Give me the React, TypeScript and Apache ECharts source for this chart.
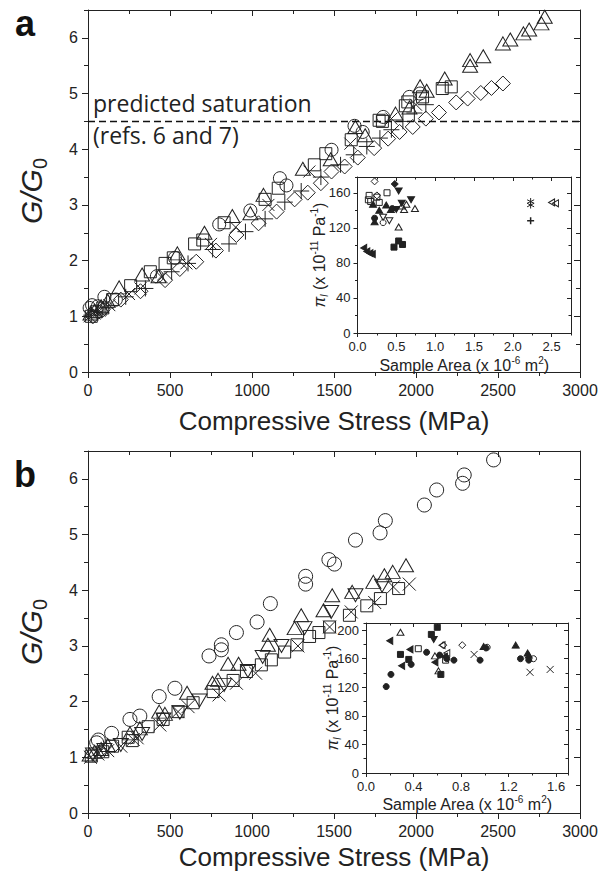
import React, { useEffect, useRef } from 'react';
import * as echarts from 'echarts';

const INK = '#222';
const SANS = '"Liberation Sans", Arial, Helvetica, sans-serif';

// ---------- Panel a : main plot  [compressive stress (MPa), G/G0] ----------
const aTriangles = [[15,1.05],[40,1.1],[80,1.18],[120,1.28],[190,1.52],[330,1.75],[430,1.72],[545,2.13],[710,2.5],[880,2.8],[990,2.85],[1070,3.18],[1310,3.65],[1480,3.82],[1630,4.4],[1690,4.25],[1875,4.64],[1960,4.75],[2025,5.13],[2065,5.05],[2175,5.27],[2330,5.5],[2330,5.6],[2410,5.67],[2530,5.9],[2575,5.97],[2655,6.08],[2690,6.15],[2765,6.26],[2785,6.38]];
const aSquares = [[20,1.0],[50,1.08],[90,1.15],[150,1.3],[260,1.55],[380,1.8],[470,1.95],[520,2.05],[650,2.3],[700,2.37],[830,2.68],[1080,3.1],[1160,3.3],[1380,3.72],[1450,3.92],[1605,4.17],[1775,4.52],[1795,4.5],[1935,4.78],[1950,4.85],[2040,4.94],[2160,5.09],[2215,5.12]];
const aCircles = [[10,1.15],[25,1.2],[60,1.18],[100,1.35],[170,1.3],[420,1.72],[530,2.05],[800,2.65],[990,2.9],[1170,3.48],[1210,3.35],[1485,3.99],[1625,4.42],[1675,4.31],[1800,4.58],[1960,4.94],[2025,5.0]];
const aDiamonds = [[30,1.0],[90,1.12],[200,1.3],[320,1.45],[470,1.65],[560,1.85],[660,1.98],[780,2.18],[905,2.46],[1040,2.67],[1150,2.88],[1260,3.1],[1340,3.22],[1420,3.39],[1485,3.6],[1565,3.69],[1645,3.85],[1745,4.02],[1830,4.19],[1900,4.31],[1980,4.4],[2060,4.55],[2140,4.66],[2245,4.84],[2315,4.91],[2395,5.01],[2460,5.1],[2530,5.18]];
const aPlus = [[20,1.02],[60,1.08],[110,1.15],[230,1.35],[350,1.5],[510,1.8],[610,1.95],[760,2.2],[860,2.3],[960,2.52],[1080,2.75],[1200,3.05],[1300,3.25],[1420,3.5],[1540,3.72],[1620,3.9],[1700,4.05],[1780,4.2],[1850,4.35],[1920,4.5],[1990,4.65],[2060,4.8]];
const aCross = [[10,1.0],[40,1.05],[70,1.1],[130,1.2],[250,1.4],[320,1.5],[450,1.7],[600,1.95],[750,2.3],[900,2.6],[1100,3.0],[1350,3.6],[1600,4.1],[1850,4.55],[2000,4.8]];
const SATURATION = 4.5;

// ---------- Panel a : inset  [sample area (1e-6 m2), pi_l (1e-11 /Pa)] ----------
const iaOpenDiamond = [[0.22,173],[0.25,157]];
const iaFilledDiamond = [[0.48,170]];
const iaFilledDown = [[0.53,162],[0.57,148],[0.69,152],[0.50,141]];
const iaOpenSquare = [[0.15,157],[0.14,152],[0.17,150],[0.28,149],[0.38,160],[0.25,155]];
const iaFilledUp = [[0.20,147],[0.28,140],[0.37,146],[0.43,141],[0.22,127]];
const iaFilledCircle = [[0.22,131],[0.45,142]];
const iaOpenDown = [[0.33,132],[0.41,128]];
const iaOpenCircle = [[0.33,126]];
const iaOpenUp = [[0.53,121],[0.60,141],[0.63,147],[0.74,142],[0.57,145]];
const iaFilledSquare = [[0.47,98],[0.53,105],[0.58,101]];
const iaFilledLeft = [[0.08,97],[0.12,93],[0.16,91],[0.19,90]];
const iaStar = [[2.23,150],[2.23,146]];
const iaPlus = [[2.23,128]];
const iaOpenLeft = [[2.50,149],[2.55,148]];

// ---------- Panel b : main plot ----------
const bCircles = [[53,1.26],[63,1.31],[144,1.43],[256,1.68],[316,1.74],[434,2.09],[530,2.24],[738,2.82],[813,2.93],[813,3.02],[905,3.24],[1031,3.43],[1112,3.76],[1327,4.11],[1327,4.25],[1469,4.55],[1503,4.47],[1631,4.9],[1781,5.03],[1813,5.25],[2051,5.53],[2126,5.8],[2284,5.92],[2294,6.07],[2473,6.34]];
const bTriangles = [[10,1.05],[40,1.1],[80,1.15],[120,1.22],[256,1.43],[316,1.52],[434,1.82],[469,1.78],[604,2.16],[759,2.34],[793,2.39],[854,2.68],[918,2.68],[1097,3.02],[1108,3.2],[1260,3.32],[1300,3.55],[1436,3.64],[1489,3.91],[1611,3.97],[1740,4.15],[1807,4.27],[1858,4.33],[1939,4.45]];
const bDownTriangles = [[30,1.05],[100,1.13],[200,1.22],[330,1.42],[460,1.68],[560,1.8],[680,2.02],[830,2.3],[975,2.55],[1065,2.8],[1180,3.0],[1320,3.32],[1483,3.61],[1631,3.91],[1793,4.08]];
const bSquares = [[20,1.02],[90,1.1],[150,1.2],[245,1.36],[270,1.3],[367,1.55],[458,1.68],[549,1.82],[641,1.98],[763,2.18],[885,2.38],[966,2.54],[1057,2.66],[1118,2.75],[1199,2.89],[1274,3.02],[1351,3.17],[1408,3.24],[1473,3.34],[1594,3.55],[1700,3.72],[1783,3.85],[1894,4.03]];
const bCross = [[15,1.0],[60,1.06],[120,1.12],[200,1.2],[276,1.32],[300,1.35],[438,1.58],[549,1.82],[610,1.91],[799,2.12],[905,2.33],[1022,2.51],[1280,3.0],[1473,3.34],[1605,3.61],[1748,3.78],[1862,4.06],[1959,4.11]];

// ---------- Panel b : inset ----------
const ibFilledCircle = [[0.17,121],[0.21,138],[0.38,152],[0.51,169],[0.62,165],[0.68,160],[0.74,158],[0.96,158],[1.01,175],[1.30,160],[1.37,158]];
const ibFilledSquare = [[0.60,204],[0.55,194],[0.29,166],[0.36,159],[0.63,138]];
const ibFilledDown = [[0.57,187]];
const ibFilledLeft = [[0.20,185],[0.37,173],[0.30,150],[0.58,155],[0.66,163]];
const ibOpenUp = [[0.29,197],[0.61,143],[0.58,164]];
const ibOpenSquare = [[0.44,174],[0.67,158]];
const ibOpenDiamond = [[0.65,179],[0.81,179]];
const ibOpenLeft = [[0.68,168],[0.64,179]];
const ibOpenCircle = [[1.41,160],[1.02,176]];
const ibCross = [[0.91,166],[1.38,141],[1.55,145]];
const ibFilledUp = [[1.26,179],[1.36,168],[0.99,177],[1.37,165]];

// axis ranges
const STRESS_RANGE = [0, 3000];
const RATIO_RANGE = [0, 6.5];
const INSET_A_AREA = [0, 2.75];
const INSET_A_PI = [0, 178];
const INSET_B_AREA = [0, 1.7];
const INSET_B_PI = [0, 210];

const SYM = {
  up: 'triangle',
  down: 'path://M0,0L10,0L5,10Z',
  left: 'path://M10,0L10,10L0,5Z',
  diamond: 'path://M5,0L10,5L5,10L0,5Z',
  plus: 'path://M5,0L5,10M0,5L10,5',
  cross: 'path://M0,0L10,10M10,0L0,10',
  star: 'path://M5,0L5,10M0.7,2.5L9.3,7.5M0.7,7.5L9.3,2.5',
  square: 'rect',
  circle: 'circle',
};

// each panel uses 4 overlapping grids: [0] bottom/left major + labels, [1] top/right major,
// [2] bottom/left minor, [3] top/right minor
function panelAxes(dim: string, panel: number, range: number[], major: number, minor: number, majorLen: number, minorLen: number, label: any) {
  const lo = dim === 'x' ? 'bottom' : 'left';
  const hi = dim === 'x' ? 'top' : 'right';
  const mk = (k: number, position: string, interval: number, len: number, inside: boolean, line: boolean, lab: any) => ({
    type: 'value', gridIndex: panel * 4 + k, position, min: range[0], max: range[1], interval,
    axisLine: { show: line, onZero: false, lineStyle: { color: INK, width: 1 } },
    axisTick: { show: true, inside, length: len, lineStyle: { color: INK, width: 1 } },
    axisLabel: lab ? lab : { show: false },
    splitLine: { show: false },
    minorTick: { show: false },
  });
  return [
    mk(0, lo, major, majorLen, false, true, label),
    mk(1, hi, major, majorLen, true, true, null),
    mk(2, lo, minor, minorLen, false, false, null),
    mk(3, hi, minor, minorLen, true, false, null),
  ];
}

function sc(data: number[][], panel: number, symbol: string, size: any, filled: boolean, bw = 1) {
  return {
    type: 'scatter', xAxisIndex: panel * 4, yAxisIndex: panel * 4, data, symbol, symbolSize: size,
    itemStyle: { color: filled ? INK : 'rgba(0,0,0,0)', borderColor: INK, borderWidth: bw, opacity: 1 },
    silent: true, z: 3,
  };
}

export default function App() {
  const ref = useRef<HTMLDivElement>(null);
  useEffect(() => {
    document.body.style.margin = '0';
    const chart = echarts.init(ref.current!, null, { renderer: 'svg' });
    const plain = (v: number) => String(v);
    const one = (v: number) => v.toFixed(1);
    const mainLab = (showMax: boolean) => ({ show: true, fontSize: 16, lineHeight: 16, color: INK, fontFamily: SANS, margin: 10, showMaxLabel: showMax, showMinLabel: true, formatter: plain });
    const insetLab = (fmt: any, margin: number) => ({ show: true, fontSize: 13, lineHeight: 12, color: INK, fontFamily: SANS, margin, showMaxLabel: false, showMinLabel: true, formatter: fmt });

    const rects = [
      { left: 88, top: 10, width: 492, height: 362 },
      { left: 88, top: 451, width: 492, height: 362 },
      { left: 357.5, top: 177, width: 213.5, height: 156 },
      { left: 366, top: 623, width: 202, height: 150 },
    ];
    const grid: any[] = [];
    rects.forEach((r, p) => {
      for (let k = 0; k < 4; k++) {
        const g: any = { ...r };
        if (p >= 2 && k === 0) { g.show = true; g.backgroundColor = '#fff'; g.borderWidth = 0; }
        grid.push(g);
      }
    });

    const xAxis = [
      ...panelAxes('x', 0, STRESS_RANGE, 500, 250, 6, 4, mainLab(true)),
      ...panelAxes('x', 1, STRESS_RANGE, 500, 250, 6, 4, mainLab(true)),
      ...panelAxes('x', 2, INSET_A_AREA, 0.5, 0.25, 4, 2.5, insetLab(one, 7)),
      ...panelAxes('x', 3, INSET_B_AREA, 0.4, 0.2, 4, 2.5, insetLab(one, 7)),
    ];
    const yAxis = [
      ...panelAxes('y', 0, RATIO_RANGE, 1, 0.5, 6, 4, mainLab(false)),
      ...panelAxes('y', 1, RATIO_RANGE, 1, 0.5, 6, 4, mainLab(false)),
      ...panelAxes('y', 2, INSET_A_PI, 40, 20, 4, 2.5, insetLab(plain, 7)),
      ...panelAxes('y', 3, INSET_B_PI, 40, 20, 4, 2.5, insetLab(plain, 7)),
    ];

    const series: any[] = [
      // panel a main
      sc(aDiamonds, 0, SYM.diamond, 15, false),
      sc(aPlus, 0, SYM.plus, 16, false),
      sc(aCross, 0, SYM.cross, 12, false),
      sc(aSquares, 0, SYM.square, 12, false),
      sc(aCircles, 0, SYM.circle, 13, false),
      sc(aTriangles, 0, SYM.up, [15, 13], false),
      {
        type: 'line', xAxisIndex: 0, yAxisIndex: 0, symbol: 'none', silent: true, z: 4,
        data: [[STRESS_RANGE[0], SATURATION], [STRESS_RANGE[1], SATURATION]],
        lineStyle: { color: '#111', width: 1.5, type: [7, 4] },
      },
      // panel b main
      sc(bCircles, 1, SYM.circle, 14, false),
      sc(bTriangles, 1, SYM.up, [15, 13], false),
      sc(bDownTriangles, 1, SYM.down, [15, 13], false),
      sc(bSquares, 1, SYM.square, 12, false),
      sc(bCross, 1, SYM.cross, 13, false),
      // inset a
      sc(iaOpenDiamond, 2, SYM.diamond, 7, false),
      sc(iaFilledDiamond, 2, SYM.diamond, 7, true),
      sc(iaFilledDown, 2, SYM.down, [7, 6], true),
      sc(iaOpenSquare, 2, SYM.square, 6, false),
      sc(iaFilledUp, 2, SYM.up, [7, 6], true),
      sc(iaFilledCircle, 2, SYM.circle, 6, true),
      sc(iaOpenDown, 2, SYM.down, [7, 6], false),
      sc(iaOpenCircle, 2, SYM.circle, 6, false),
      sc(iaOpenUp, 2, SYM.up, [7, 6], false),
      sc(iaFilledSquare, 2, SYM.square, 6, true),
      sc(iaFilledLeft, 2, SYM.left, [6, 7], true),
      sc(iaStar, 2, SYM.star, 7, false),
      sc(iaPlus, 2, SYM.plus, 7, false, 1.5),
      sc(iaOpenLeft, 2, SYM.left, [6, 7], false),
      // inset b
      sc(ibFilledCircle, 3, SYM.circle, 6, true),
      sc(ibFilledSquare, 3, SYM.square, 6, true),
      sc(ibFilledDown, 3, SYM.down, [7, 6], true),
      sc(ibFilledLeft, 3, SYM.left, [6, 7], true),
      sc(ibOpenUp, 3, SYM.up, [7, 6], false),
      sc(ibOpenSquare, 3, SYM.square, 6, false),
      sc(ibOpenDiamond, 3, SYM.diamond, 7, false),
      sc(ibOpenLeft, 3, SYM.left, [6, 7], false),
      sc(ibOpenCircle, 3, SYM.circle, 6, false),
      sc(ibCross, 3, SYM.cross, 7, false),
      sc(ibFilledUp, 3, SYM.up, [7, 6], true),
    ];

    const txt = (x: number, y: number, text: string, size: number, extra: any = {}) => ({
      type: 'text', x, y, silent: true, z: 10, rotation: extra.rotation || 0,
      style: {
        text, fontSize: size, fontFamily: extra.fontFamily || SANS, fontWeight: extra.fontWeight || 'normal',
        fontStyle: extra.fontStyle || 'normal', fill: extra.fill || INK,
        align: extra.align || 'center', verticalAlign: 'middle', textAlign: extra.align || 'center', textVerticalAlign: 'middle',
        lineHeight: extra.lineHeight, rich: extra.rich,
      },
    });

    const gRich = {
      i: { fontSize: 30, fontStyle: 'italic', fontFamily: SANS, fill: INK, lineHeight: 38 },
      s: { fontSize: 20, fontFamily: SANS, fill: INK, verticalAlign: 'bottom' },
    };
    const piRich = {
      i: { fontSize: 16, fontStyle: 'italic', fontFamily: SANS, fill: INK, lineHeight: 20 },
      sb: { fontSize: 10, fontStyle: 'italic', fontFamily: SANS, fill: INK, verticalAlign: 'bottom' },
      sp: { fontSize: 10, fontFamily: SANS, fill: INK, verticalAlign: 'top' },
      n: { fontSize: 16, fontFamily: SANS, fill: INK, lineHeight: 20 },
    };
    const areaRich = {
      n: { fontSize: 16, fontFamily: SANS, fill: INK, lineHeight: 20 },
      sp: { fontSize: 10, fontFamily: SANS, fill: INK, verticalAlign: 'top' },
    };
    const OPEN = '"Open Sans", "Noto Sans", sans-serif';

    const graphic = [
      txt(25, 23, 'a', 36, { fontWeight: 'bold', fill: '#111' }),
      txt(25, 474, 'b', 36, { fontWeight: 'bold', fill: '#111' }),
      txt(334, 421, 'Compressive Stress (MPa)', 26),
      txt(334, 857, 'Compressive Stress (MPa)', 26),
      txt(31, 191, '{i|G/G}{s|0}', 30, { rotation: Math.PI / 2, lineHeight: 38, rich: gRich }),
      txt(31, 632, '{i|G/G}{s|0}', 30, { rotation: Math.PI / 2, lineHeight: 38, rich: gRich }),
      txt(93, 103, 'predicted saturation', 23, { align: 'left', fontFamily: OPEN }),
      txt(93, 135, '(refs. 6 and 7)', 23, { align: 'left', fontFamily: OPEN }),
      txt(464, 365, '{n|Sample Area (x 10}{sp|-6}{n| m}{sp|2}{n|)}', 16, { lineHeight: 20, rich: areaRich }),
      txt(467, 804, '{n|Sample Area (x 10}{sp|-6}{n| m}{sp|2}{n|)}', 16, { lineHeight: 20, rich: areaRich }),
      txt(319, 255, '{i|π}{sb|l}{n| (x 10}{sp|-11}{n| Pa}{sp|-1}{n|)}', 16, { rotation: Math.PI / 2, lineHeight: 20, rich: piRich }),
      txt(332, 698, '{i|π}{sb|l}{n| (x 10}{sp|-11}{n| Pa}{sp|-1}{n|)}', 16, { rotation: Math.PI / 2, lineHeight: 20, rich: piRich }),
    ];

    chart.setOption({
      animation: false,
      backgroundColor: '#fff',
      grid, xAxis, yAxis, series, graphic,
    });
    return () => chart.dispose();
  }, []);
  return <div ref={ref} style={{ width: 603, height: 880 }} />;
}
